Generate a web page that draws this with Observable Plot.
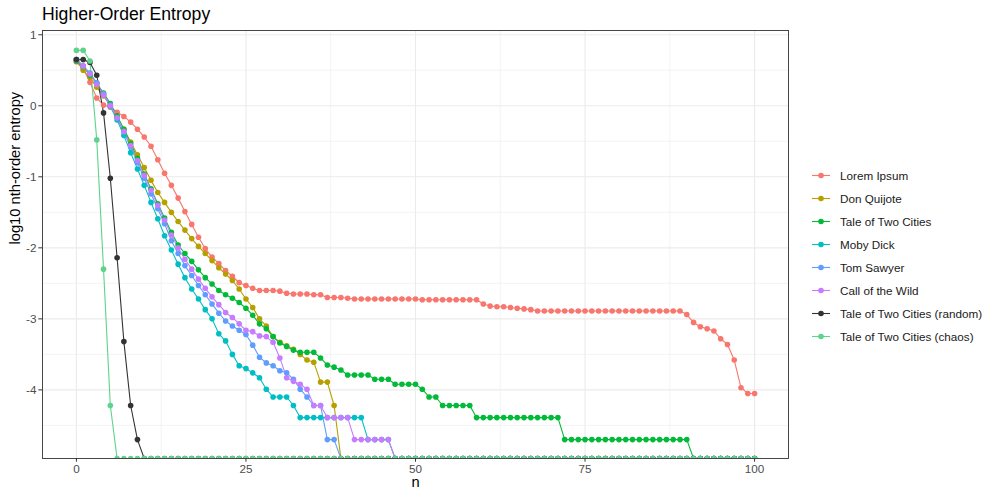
<!DOCTYPE html>
<html><head><meta charset="utf-8">
<script src="https://cdn.jsdelivr.net/npm/d3@7"></script>
<script src="https://cdn.jsdelivr.net/npm/@observablehq/plot@0.6"></script>
<style>
body{margin:0;background:#fff;font-family:"Liberation Sans",Arial,sans-serif;}
#wrap{position:relative;width:1000px;height:500px;overflow:hidden;background:#fff;}
#chart{position:absolute;left:0;top:0;}
#title{position:absolute;left:42px;top:6px;font-size:17.6px;line-height:1;color:#000;white-space:nowrap;}
#legend{position:absolute;left:812px;top:163.5px;}
.item{display:flex;align-items:center;height:23px;font-size:11.7px;color:#1a1a1a;white-space:nowrap;}
.item svg{margin-right:10px;}
</style></head>
<body><div id="wrap"><div id="chart"></div><div id="title">Higher-Order Entropy</div><div id="legend"></div></div>
<script>
const I = -Infinity; // log10 of zero entropy, drawn at the panel floor

const series = ["Lorem Ipsum","Don Quijote","Tale of Two Cities","Moby Dick","Tom Sawyer","Call of the Wild","Tale of Two Cities (random)","Tale of Two Cities (chaos)"];
const colors = ["#F8766D","#B79F00","#00BA38","#00BFC4","#619CFF","#C77CFF","#333333","#5FD38D"];

const loremIpsum = [0.62,0.52,0.33,0.11,0.01,-0.02,-0.09,-0.15,-0.23,-0.33,
-0.44,-0.57,-0.76,-0.95,-1.12,-1.30,-1.49,-1.67,-1.85,-2.01,
-2.13,-2.22,-2.32,-2.40,-2.49,-2.53,-2.57,-2.60,-2.60,-2.60,
-2.61,-2.64,-2.65,-2.65,-2.65,-2.66,-2.66,-2.70,-2.70,-2.70,
-2.71,-2.72,-2.72,-2.72,-2.72,-2.72,-2.72,-2.72,-2.72,-2.72,
-2.72,-2.73,-2.73,-2.73,-2.73,-2.73,-2.73,-2.73,-2.73,-2.73,
-2.79,-2.82,-2.83,-2.83,-2.84,-2.85,-2.86,-2.87,-2.89,-2.89,
-2.89,-2.89,-2.89,-2.89,-2.89,-2.89,-2.89,-2.89,-2.89,-2.89,
-2.89,-2.89,-2.89,-2.89,-2.89,-2.89,-2.89,-2.89,-2.89,-2.89,
-2.94,-3.05,-3.11,-3.14,-3.17,-3.28,-3.36,-3.58,-3.97,-4.05,-4.05];

const donQuijote = [0.63,0.50,0.40,0.26,0.14,0.01,-0.16,-0.33,-0.51,-0.69,
-0.87,-1.05,-1.22,-1.36,-1.50,-1.63,-1.75,-1.87,-1.98,-2.08,
-2.18,-2.28,-2.37,-2.46,-2.58,-2.72,-2.84,-3.00,-3.10,-3.25,
-3.33,-3.38,-3.43,-3.50,-3.58,-3.61,-3.89,-3.89,-4.22,I,
I,I,I,I,I,I,I,I,I,I, I,I,I,I,I,I,I,I,I,I, I,I,I,I,I,I,I,I,I,I,
I,I,I,I,I,I,I,I,I,I, I,I,I,I,I,I,I,I,I,I, I,I,I,I,I,I,I,I,I,I,I];

const taleOfTwoCities = [0.63,0.55,0.43,0.31,0.18,0.03,-0.14,-0.33,-0.53,-0.74,
-0.96,-1.17,-1.38,-1.58,-1.78,-1.96,-2.08,-2.19,-2.31,-2.42,
-2.51,-2.60,-2.66,-2.71,-2.77,-2.85,-2.95,-3.07,-3.14,-3.25,
-3.34,-3.39,-3.44,-3.47,-3.47,-3.47,-3.55,-3.65,-3.68,-3.72,
-3.79,-3.79,-3.79,-3.79,-3.85,-3.85,-3.85,-3.92,-3.92,-3.92,
-3.92,-3.99,-4.10,-4.10,-4.22,-4.22,-4.22,-4.22,-4.22,-4.39,
-4.39,-4.39,-4.39,-4.39,-4.39,-4.39,-4.39,-4.39,-4.39,-4.39,
-4.39,-4.39,-4.70,-4.70,-4.70,-4.70,-4.70,-4.70,-4.70,-4.70,
-4.70,-4.70,-4.70,-4.70,-4.70,-4.70,-4.70,-4.70,-4.70,-4.70,
-4.70,I,I,I,I,I,I,I,I,I,I];

const mobyDick = [0.65,0.56,0.46,0.32,0.16,-0.01,-0.20,-0.42,-0.66,-0.89,
-1.12,-1.36,-1.59,-1.83,-2.03,-2.23,-2.42,-2.58,-2.72,-2.87,
-3.00,-3.21,-3.31,-3.50,-3.66,-3.70,-3.76,-3.83,-3.99,-4.10,
-4.10,-4.10,-4.22,-4.39,-4.39,-4.39,-4.39,-4.39,-4.39,-4.39,
-4.39,-4.39,-4.39,-4.70,-4.70,-4.70,-4.70,I,I,I,
I,I,I,I,I,I,I,I,I,I, I,I,I,I,I,I,I,I,I,I, I,I,I,I,I,I,I,I,I,I,
I,I,I,I,I,I,I,I,I,I, I,I,I,I,I,I,I,I,I,I,I];

const tomSawyer = [0.65,0.56,0.45,0.32,0.17,0.01,-0.17,-0.37,-0.58,-0.80,
-1.02,-1.24,-1.45,-1.66,-1.90,-2.08,-2.25,-2.39,-2.53,-2.66,
-2.79,-2.92,-3.03,-3.10,-3.16,-3.22,-3.37,-3.54,-3.62,-3.66,
-3.73,-3.76,-3.85,-3.99,-4.10,-4.22,-4.22,-4.70,-4.70,I,
I,I,I,I,I,I,I,I,I,I, I,I,I,I,I,I,I,I,I,I, I,I,I,I,I,I,I,I,I,I,
I,I,I,I,I,I,I,I,I,I, I,I,I,I,I,I,I,I,I,I, I,I,I,I,I,I,I,I,I,I,I];

const callOfTheWild = [0.65,0.56,0.45,0.30,0.15,0.00,-0.17,-0.36,-0.56,-0.77,
-0.98,-1.19,-1.40,-1.61,-1.82,-2.00,-2.16,-2.30,-2.44,-2.57,
-2.69,-2.80,-2.91,-2.98,-3.07,-3.16,-3.18,-3.24,-3.25,-3.33,
-3.55,-3.83,-3.88,-3.92,-3.99,-4.22,-4.22,-4.39,-4.39,-4.39,
-4.39,-4.70,-4.70,-4.70,-4.70,-4.70,-4.70,I,I,I,
I,I,I,I,I,I,I,I,I,I, I,I,I,I,I,I,I,I,I,I, I,I,I,I,I,I,I,I,I,I,
I,I,I,I,I,I,I,I,I,I, I,I,I,I,I,I,I,I,I,I,I];

const taleRandom = [0.65,0.65,0.61,0.43,-0.10,-1.02,-2.14,-3.32,-4.22,-4.70,
I,I,I,I,I,I,I,I,I,I, I,I,I,I,I,I,I,I,I,I, I,I,I,I,I,I,I,I,I,I,
I,I,I,I,I,I,I,I,I,I, I,I,I,I,I,I,I,I,I,I, I,I,I,I,I,I,I,I,I,I,
I,I,I,I,I,I,I,I,I,I, I,I,I,I,I,I,I,I,I,I, I,I,I,I,I,I,I,I,I,I,I];

const taleChaos = [0.78,0.78,0.63,-0.48,-2.30,-4.22,I,I,I,I,
I,I,I,I,I,I,I,I,I,I, I,I,I,I,I,I,I,I,I,I, I,I,I,I,I,I,I,I,I,I,
I,I,I,I,I,I,I,I,I,I, I,I,I,I,I,I,I,I,I,I, I,I,I,I,I,I,I,I,I,I,
I,I,I,I,I,I,I,I,I,I, I,I,I,I,I,I,I,I,I,I, I,I,I,I,I,I,I,I,I,I,I];

const xTicks = [0,25,50,75,100];
const xMinor = [12.5,37.5,62.5,87.5];
const yTicks = [1,0,-1,-2,-3,-4];
const yMinor = [0.5,-0.5,-1.5,-2.5,-3.5,-4.5];

const allValues = [loremIpsum,donQuijote,taleOfTwoCities,mobyDick,tomSawyer,callOfTheWild,taleRandom,taleChaos];
const yMin = -4.966, yMax = 1.06;

const table = series.flatMap((s, i) => allValues[i].map((v, n) => ({series: s, n, v, yv: Number.isFinite(v) ? v : yMin})));

const font = "Liberation Sans, Arial, sans-serif";
const grid = "#ebebeb";

const chart = Plot.plot({
  width: 1000, height: 500,
  marginLeft: 42, marginRight: 212, marginTop: 30, marginBottom: 42,
  style: {fontFamily: font, background: "white", overflow: "visible"},
  x: {domain: [-5, 105]},
  y: {domain: [yMin, yMax]},
  color: {domain: series, range: colors},
  marks: [
    Plot.ruleX(xMinor, {stroke: grid, strokeWidth: 0.6}),
    Plot.ruleY(yMinor, {stroke: grid, strokeWidth: 0.6}),
    Plot.ruleX(xTicks, {stroke: grid, strokeWidth: 1.1}),
    Plot.ruleY(yTicks, {stroke: grid, strokeWidth: 1.1}),
    Plot.line(table, {x: "n", y: "yv", z: "series", stroke: "series", strokeWidth: 1.1, clip: true}),
    Plot.dot(table, {x: "n", y: "yv", fill: "series", r: 2.8, clip: true}),
    Plot.frame({stroke: "#333333", strokeWidth: 0.9}),
    Plot.axisX(xTicks, {tickSize: 3.7, tickPadding: 2.4, fontSize: 11.7, label: null, stroke: "#333333", fill: "#4d4d4d"}),
    Plot.axisY(yTicks, {tickSize: 3.7, tickPadding: 2.4, fontSize: 11.7, label: null, stroke: "#333333", fill: "#4d4d4d", tickFormat: d => String(d)}),
    Plot.text(["n"], {frameAnchor: "bottom", dy: 28.5, fontSize: 14.7, fill: "#000"}),
    Plot.text(["log10 nth-order entropy"], {frameAnchor: "left", dx: -27, rotate: -90, fontSize: 14.7, fill: "#000"})
  ]
});
document.getElementById("chart").appendChild(chart);

const legend = d3.select("#legend");
series.forEach((s, i) => {
  const row = legend.append("div").attr("class", "item");
  const svg = row.append("svg").attr("width", 18).attr("height", 17);
  svg.append("line").attr("x1", 0).attr("x2", 18).attr("y1", 8.5).attr("y2", 8.5).attr("stroke", colors[i]).attr("stroke-width", 1.1);
  svg.append("circle").attr("cx", 9).attr("cy", 8.5).attr("r", 2.8).attr("fill", colors[i]);
  row.append("span").text(s);
});
</script>
</body></html>
